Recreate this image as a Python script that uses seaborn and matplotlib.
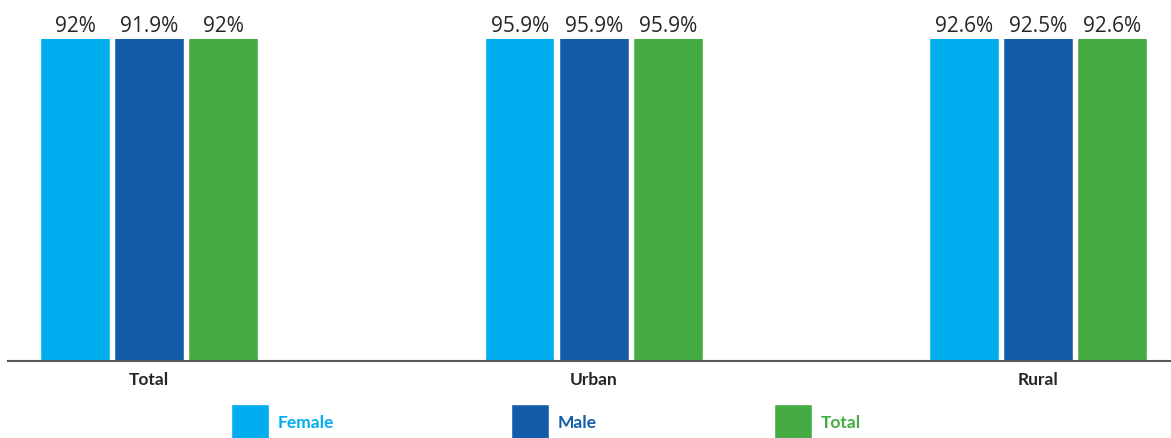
import numpy as np
import pandas as pd
import seaborn as sns
import matplotlib.pyplot as plt
import matplotlib.transforms as mtransforms

# data
areas = ['Total', 'Urban', 'Rural']
female = [92.0, 95.9, 92.6]
male = [91.9, 95.9, 92.5]
total = [92.0, 95.9, 92.6]
series = ['Female', 'Male', 'Total']
colors = ['#00AEEF', '#135CAA', '#45AB43']

df = pd.DataFrame({
    'Area': areas * 3,
    'Sex': np.repeat(series, len(areas)),
    'Value': female + male + total,
})

sns.set_style('white')
plt.rcParams['font.family'] = ['Lato', 'DejaVu Sans']

fig = plt.figure(figsize=(11.71, 4.39), dpi=100)
ax = fig.add_axes([8 / 1171, 77 / 439, 1163 / 1171, 322 / 439])

sns.barplot(data=df, x='Area', y='Value', hue='Sex', palette=colors,
            order=areas, hue_order=series, width=0.5, gap=0.06,
            saturation=1, legend=True, ax=ax)

# all bars run past the top of the axis in the original
ax.set_ylim(0, 91)
ax.set_xlim(-0.3177, 2.2987)

# value labels sitting on the axes top edge
trans = mtransforms.blended_transform_factory(ax.transData, ax.transAxes)
for cont, vals in zip(ax.containers, [female, male, total]):
    for bar, v in zip(cont, vals):
        ax.text(bar.get_x() + bar.get_width() / 2, 1.008, f'{v:g}%',
                transform=trans, ha='center', va='bottom',
                fontsize=15, color='#262626', family='Open Sans')

for s in ['top', 'right', 'left']:
    ax.spines[s].set_visible(False)
ax.spines['bottom'].set_color('#595959')
ax.spines['bottom'].set_linewidth(1.5)
ax.set_yticks([])
ax.set_xlabel('')
ax.set_ylabel('')
ax.tick_params(axis='x', length=0, pad=7)
for lab in ax.get_xticklabels():
    lab.set_fontweight('bold')
    lab.set_fontsize(12.5)
    lab.set_color('#262626')

h, l = ax.get_legend_handles_labels()
ax.legend_.remove()
leg = fig.legend(h, l, loc='center', bbox_to_anchor=(0.466, 0.036), ncol=3,
                 frameon=False, handlelength=2.2, handleheight=2.9,
                 handletextpad=0.5, columnspacing=10.2,
                 prop={'weight': 'bold', 'size': 12.5})
for txt, c in zip(leg.get_texts(), colors):
    txt.set_color(c)

fig.savefig('out.png', dpi=100)
